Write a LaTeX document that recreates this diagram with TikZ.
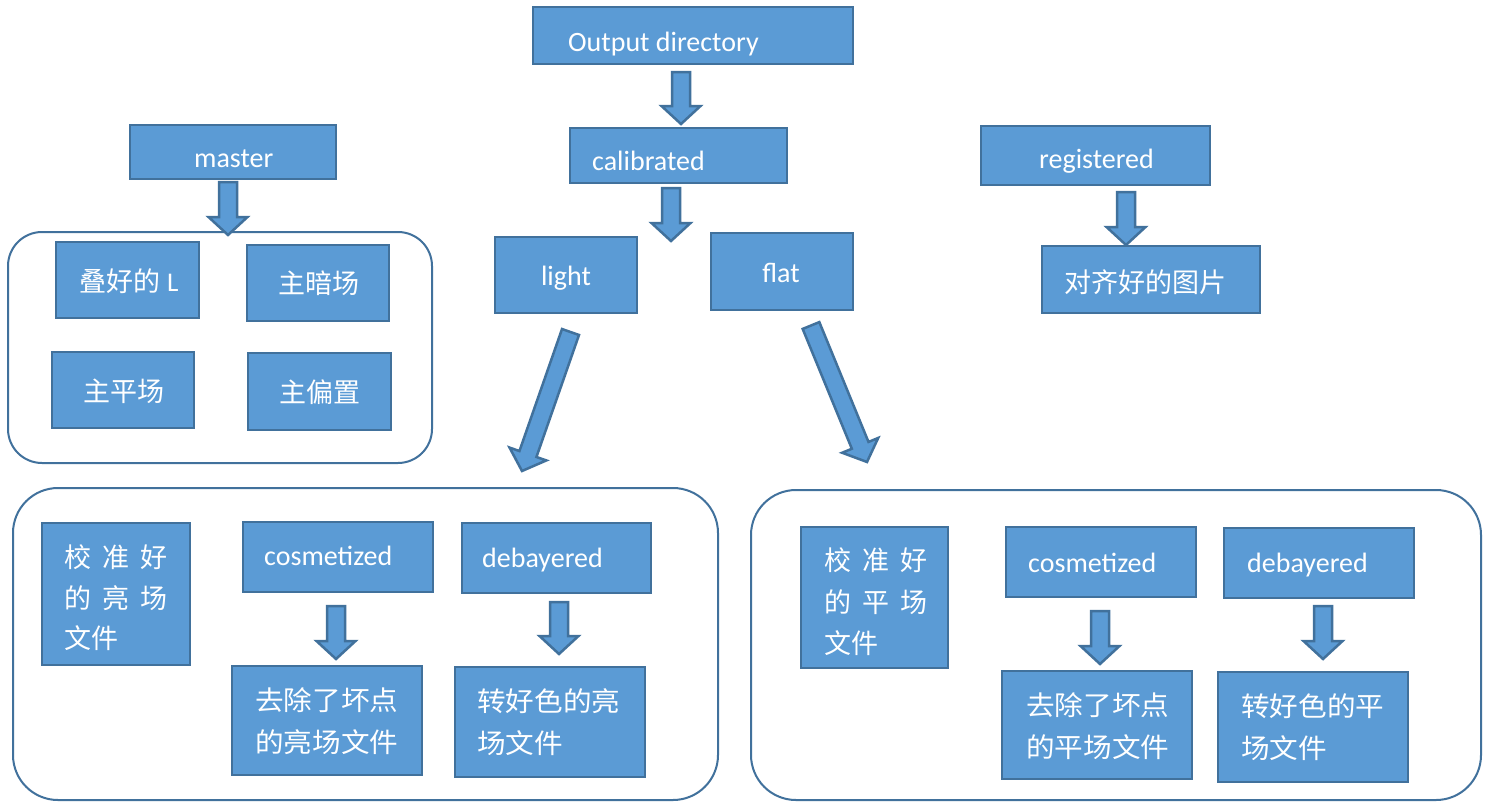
\documentclass[tikz,border=0pt]{standalone}
\usepackage{fontspec}
\setmainfont{Carlito}
\newfontfamily\cjk{Noto Sans CJK SC}
\newfontfamily\cjkw[FakeStretch=1.06]{Noto Sans CJK SC}
\usetikzlibrary{calc,fit}
\definecolor{boxfill}{HTML}{5B9BD5}
\definecolor{boxline}{HTML}{41719C}
\tikzset{
  box/.style={draw=boxline, fill=boxfill, line width=2.5pt, inner sep=0pt},
  lbl/.style={text=white, inner sep=0pt, font=\fontsize{28}{32}\selectfont},
  clbl/.style={text=white, inner sep=0pt, align=left, font=\cjk\fontsize{27}{42}\selectfont},
  wlbl/.style={clbl, font=\cjkw\fontsize{27}{42}\selectfont},
  group/.style={draw=boxline, line width=2pt, inner sep=0pt, rounded corners=#1},
  barrow/.style={draw=boxline, fill=boxfill, line width=2.5pt, line join=miter},
}
\newcommand\blockarrow[2]{%
  \path let \p1=(#1), \p2=(#2), \n1={atan2(\y2-\y1,\x2-\x1)}, \n2={veclen(\x2-\x1,\y2-\y1)} in
    \pgfextra{\xdef\baang{\n1}\xdef\balen{\n2}};
  \draw[barrow, shift={(#1)}, rotate=\baang]
    (0,-9) -- ({\balen-18},-9) -- ({\balen-18},-19.5) -- (\balen,0)
    -- ({\balen-18},19.5) -- ({\balen-18},9) -- (0,9) -- cycle;
}
\begin{document}
\begin{tikzpicture}[x=1pt,y=-1pt]
\useasboundingbox (0,0) rectangle (1487,803);
\fill[white] (0,0) rectangle (1487,803);

% containers
\node[group=34pt, fit={(8,232)(432,463)}] (gmaster) {};
\node[group=45pt, fit={(13,488)(718,800)}] (glight) {};
\node[group=45pt, fit={(751,490)(1481,800)}] (gflat) {};

% top boxes
\node[box, fit={(533,7)(853,64)}] (out) {};
\node[box, fit={(570,128)(787,183)}] (cal) {};
\node[box, fit={(495,237)(637,313)}] (light) {};
\node[box, fit={(711,233)(853,310)}] (flat) {};
\node[box, fit={(130,125)(336,179)}] (master) {};
\node[box, fit={(981,126)(1210,185)}] (reg) {};
\node[box, fit={(1042,246)(1260,313)}] (aligned) {};

% master group
\node[box, fit={(56,242)(199,318)}] (stack) {};
\node[box, fit={(247,245)(389,321)}] (mdark) {};
\node[box, fit={(52,352)(194,428)}] (mflat) {};
\node[box, fit={(248,353)(391,430)}] (mbias) {};

% light group
\node[box, fit={(42,523)(190,665)}] (lcal) {};
\node[box, fit={(243,522)(433,592)}] (lcos) {};
\node[box, fit={(462,523)(651,593)}] (ldeb) {};
\node[box, fit={(232,666)(422,775)}] (lcosr) {};
\node[box, fit={(455,667)(645,777)}] (ldebr) {};

% flat group
\node[box, fit={(801,527)(948,668)}] (fcal) {};
\node[box, fit={(1006,527)(1196,597)}] (fcos) {};
\node[box, fit={(1224,528)(1414,598)}] (fdeb) {};
\node[box, fit={(1002,671)(1192,779)}] (fcosr) {};
\node[box, fit={(1218,672)(1408,782)}] (fdebr) {};

% arrow end points
\coordinate (a1s) at (681,72);    \coordinate (a1e) at (681,124);
\coordinate (a2s) at (671,188);   \coordinate (a2e) at (671,241);
\coordinate (ams) at (228,182);   \coordinate (ame) at (228,235);
\coordinate (ars) at (1126,192);  \coordinate (are) at (1126,245);
\coordinate (als) at (570.5,332); \coordinate (ale) at (522,471);
\coordinate (afs) at (811,325.5); \coordinate (afe) at (867,462);
\coordinate (b1s) at (336,606);   \coordinate (b1e) at (336,659);
\coordinate (b2s) at (559,602);   \coordinate (b2e) at (559,654);
\coordinate (c1s) at (1100,611);  \coordinate (c1e) at (1100,664);
\coordinate (c2s) at (1323,606);  \coordinate (c2e) at (1323,659);

\blockarrow{a1s}{a1e}
\blockarrow{a2s}{a2e}
\blockarrow{ams}{ame}
\blockarrow{ars}{are}
\blockarrow{als}{ale}
\blockarrow{afs}{afe}
\blockarrow{b1s}{b1e}
\blockarrow{b2s}{b2e}
\blockarrow{c1s}{c1e}
\blockarrow{c2s}{c2e}

% latin labels
\node[lbl, anchor=base west] (tout) at (568,51) {Output directory};
\node[lbl, anchor=base west] (tcal) at (592,170) {calibrated};
\node[lbl, anchor=base] (tlight) at (566,285) {light};
\node[lbl, anchor=base] (tflat) at (781,282) {flat};
\node[lbl, anchor=base west] (tmaster) at (194,167) {master};
\node[lbl, anchor=base west] (treg) at (1039,168) {registered};
\node[lbl, anchor=base west] (tlcos) at (264,565) {cosmetized};
\node[lbl, anchor=base west] (tldeb) at (482,567) {debayered};
\node[lbl, anchor=base west] (tfcos) at (1028,572) {cosmetized};
\node[lbl, anchor=base west] (tfdeb) at (1247,572) {debayered};

% chinese labels
\node[clbl, anchor=west] (tstack) at (79,281) {叠好的\hspace{7pt}{\fontspec{Carlito}L}};
\node[clbl, anchor=west] (tmdark) at (278,283) {主暗场};
\node[clbl, anchor=west] (tmflat) at (83,391) {主平场};
\node[clbl, anchor=west] (tmbias) at (279,392) {主偏置};
\node[clbl, anchor=west] (taligned) at (1064,282) {对齐好的图片};

\node[clbl, anchor=west, font=\cjk\fontsize{27}{40.5}\selectfont] (tlcal) at (64,598) {校\hspace{11pt}准\hspace{11pt}好\\的\hspace{11pt}亮\hspace{11pt}场\\文件};
\node[wlbl, anchor=west] (tlcosr) at (255,721) {去除了坏点\\的亮场文件};
\node[wlbl, anchor=west] (tldebr) at (477,722) {转好色的亮\\场文件};

\node[clbl, anchor=west, font=\cjk\fontsize{27}{41.5}\selectfont] (tfcal) at (824,602) {校\hspace{11pt}准\hspace{11pt}好\\的\hspace{11pt}平\hspace{11pt}场\\文件};
\node[wlbl, anchor=west] (tfcosr) at (1026,726) {去除了坏点\\的平场文件};
\node[wlbl, anchor=west] (tfdebr) at (1241,727) {转好色的平\\场文件};
\end{tikzpicture}
\end{document}
